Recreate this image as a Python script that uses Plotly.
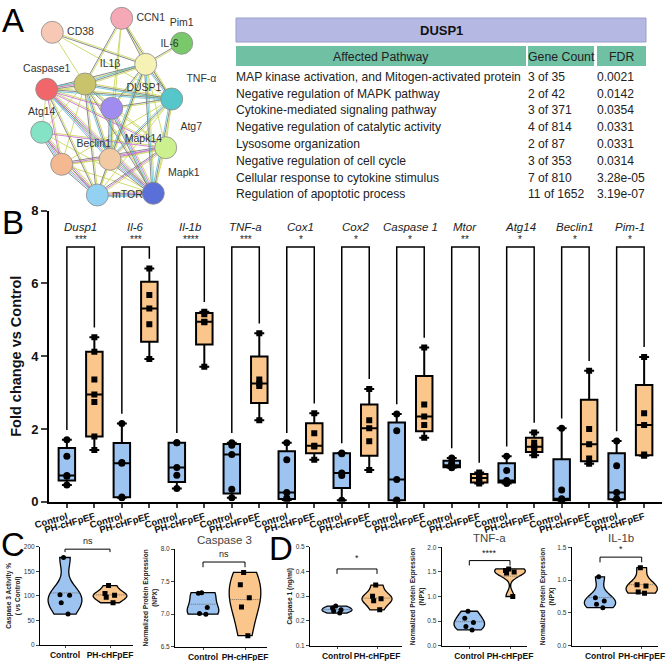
import numpy as np
import plotly.graph_objects as go

W, H = 669, 661
FONT = "Liberation Sans, Arial, sans-serif"
BLUE = "#9dc4f1"
ORANGE = "#fbc68b"

# ---------- A: STRING network ----------
node_names = ["CCN1", "CD38", "Pim1", "IL-6", "IL1β", "Caspase1", "TNF-α",
              "DUSP1", "Atg14", "Atg7", "Mapk14", "Beclin1", "mTOR", "Mapk1"]
node_x = [121.7, 52.3, 181.7, 145.7, 85.0, 46.7, 171.7, 111.7, 41.7, 165.7, 110.0, 61.7, 97.3, 153.3]
node_y = [18.3, 32.3, 43.3, 64.3, 84.0, 89.3, 99.0, 108.3, 132.3, 147.7, 159.3, 164.3, 195.0, 193.3]
node_colors = ["#f5a9b6", "#f7c9b4", "#79c96b", "#f6f1b4", "#c9c46c", "#f0666b", "#55c6c9",
               "#a08cf0", "#84e3c4", "#cdf08e", "#f1c9a2", "#f5b992", "#93d1f2", "#5b6fd8"]
label_pos = ["middle right", "middle right", "top center", "top right", "top right", "top center",
             "top right", "top right", "top center", "top right", "top right", "top right",
             "middle right", "top right"]
# evidence: t textmining, k co-expression, e experiments, d databases
edges = [
    ("CCN1", "IL-6", "tk"), ("CCN1", "IL1β", "tk"), ("CCN1", "DUSP1", "t"), ("CCN1", "TNF-α", "tk"),
    ("CCN1", "Mapk14", "t"), ("CD38", "IL-6", "tk"), ("CD38", "TNF-α", "t"), ("CD38", "IL1β", "t"),
    ("Pim1", "IL-6", "tk"), ("IL-6", "IL1β", "tkd"), ("IL-6", "Caspase1", "tk"), ("IL-6", "TNF-α", "tkd"),
    ("IL-6", "DUSP1", "tk"), ("IL-6", "Atg7", "t"), ("IL-6", "Mapk14", "tkd"), ("IL-6", "Mapk1", "tdk"),
    ("IL-6", "mTOR", "t"), ("IL1β", "Caspase1", "tked"), ("IL1β", "TNF-α", "tkd"), ("IL1β", "DUSP1", "tk"),
    ("IL1β", "Atg14", "t"), ("IL1β", "Beclin1", "t"), ("IL1β", "mTOR", "tk"), ("IL1β", "Mapk14", "tkd"),
    ("IL1β", "Mapk1", "tk"), ("IL1β", "Atg7", "t"), ("Caspase1", "TNF-α", "tkd"), ("Caspase1", "DUSP1", "te"),
    ("Caspase1", "Beclin1", "te"), ("Caspase1", "mTOR", "tk"), ("Caspase1", "Mapk14", "ted"),
    ("Caspase1", "Mapk1", "tekd"), ("Caspase1", "Atg7", "te"), ("Caspase1", "Atg14", "t"),
    ("TNF-α", "DUSP1", "tk"), ("TNF-α", "Atg7", "t"), ("TNF-α", "Mapk14", "tkd"), ("TNF-α", "Mapk1", "tkd"),
    ("TNF-α", "mTOR", "t"), ("TNF-α", "Beclin1", "t"), ("DUSP1", "Mapk14", "tedk"), ("DUSP1", "Mapk1", "tedk"),
    ("DUSP1", "Atg7", "t"), ("Atg14", "Beclin1", "tedk"), ("Atg14", "mTOR", "tek"), ("Atg14", "Atg7", "te"),
    ("Atg14", "Mapk1", "t"), ("Atg7", "Mapk14", "te"), ("Atg7", "Mapk1", "t"), ("Atg7", "mTOR", "tek"),
    ("Atg7", "Beclin1", "tek"), ("Mapk14", "Beclin1", "t"), ("Mapk14", "mTOR", "tk"), ("Mapk14", "Mapk1", "tedk"),
    ("Beclin1", "mTOR", "tedk"), ("Beclin1", "Mapk1", "t"), ("mTOR", "Mapk1", "tekd"),
]
ev_colors = {"t": "#c3d145", "k": "#666666", "e": "#c25ccf", "d": "#4bb7cf"}

# ---------- A: enrichment table ----------
table_title = "DUSP1"
table_header = ["Affected Pathway", "Gene Count", "FDR"]
pathways = [
    "MAP kinase activation, and Mitogen-activated protein",
    "Negative regulation of MAPK pathway",
    "Cytokine-mediated signaling pathway",
    "Negative regulation of catalytic activity",
    "Lysosome organization",
    "Negative regulation of cell cycle",
    "Cellular response to cytokine stimulus",
    "Regulation of apoptotic process",
]
gene_counts = ["3 of 35", "2 of 42", "3 of 371", "4 of 814", "2 of 87", "3 of 353", "7 of 810", "11 of 1652"]
fdr = ["0.0021", "0.0142", "0.0354", "0.0331", "0.0331", "0.0314", "3.28e-05", "3.19e-07"]

# ---------- B: qPCR fold change ----------
genes = ["Dusp1", "Il-6", "Il-1b", "TNF-a", "Cox1", "Cox2", "Caspase 1", "Mtor", "Atg14", "Beclin1", "Pim-1"]
stars = ["***", "***", "****", "***", "*", "*", "*", "**", "*", "*", "*"]
control_pts = [
    [1.70, 1.25, 0.72, 0.70, 0.46],
    [2.15, 1.08, 1.06, 0.13, 0.11],
    [1.62, 1.62, 0.94, 0.73, 0.36],
    [1.62, 1.55, 1.30, 0.34, 0.11],
    [1.62, 1.15, 0.25, 0.10, 0.05],
    [1.34, 1.32, 0.79, 0.72, 0.04],
    [2.41, 1.95, 0.61, 0.05, 0.03],
    [1.20, 1.05, 1.00, 0.97, 0.93],
    [1.25, 0.86, 0.58, 0.56, 0.50],
    [2.02, 0.32, 0.08, 0.05, 0.03],
    [1.67, 0.99, 0.25, 0.08, 0.05],
]
ph_pts = [
    [4.52, 4.12, 3.36, 2.95, 2.74, 1.79, 1.42],
    [6.41, 5.68, 5.31, 4.88, 3.92],
    [5.22, 5.15, 4.95, 4.93, 3.71],
    [4.63, 3.36, 3.25, 3.18, 2.24],
    [2.43, 1.88, 1.54, 1.52, 1.15],
    [3.10, 2.24, 2.02, 1.66, 0.87],
    [4.24, 2.67, 2.34, 2.11, 1.76],
    [0.80, 0.72, 0.65, 0.55, 0.50],
    [1.90, 1.62, 1.51, 1.45, 1.28],
    [3.60, 2.00, 1.58, 1.19, 1.04],
    [3.98, 2.43, 2.11, 1.30, 1.26],
]
group_labels = ["Control", "PH-cHFpEF"]

# ---------- C / D: violins ----------
casp3_activity = {"Control": [178, 102, 101, 86, 63], "PH-cHFpEF": [121, 105, 101, 97, 86]}
casp3_npx = {"Control": [7.33, 7.32, 7.10, 7.01, 7.00], "PH-cHFpEF": [7.64, 7.45, 7.25, 7.11, 6.67]}
casp1_conc = {"Control": [0.26, 0.252, 0.245, 0.24, 0.232], "PH-cHFpEF": [0.345, 0.30, 0.29, 0.282, 0.245]}
tnfa_npx = {"Control": [0.70, 0.56, 0.47, 0.39, 0.32], "PH-cHFpEF": [1.56, 1.53, 1.50, 1.48, 1.00]}
il1b_npx = {"Control": [1.05, 0.73, 0.68, 0.63, 0.58], "PH-cHFpEF": [1.19, 0.93, 0.91, 0.82, 0.80]}


def dx(a, b):
    return [a / W, b / W]


def dy(top, bottom):
    return [1 - bottom / H, 1 - top / H]


fig = go.Figure()
shapes, annos = [], []

# network edges
pos = dict(zip(node_names, zip(node_x, node_y)))
ex = {c: [] for c in ev_colors}
ey = {c: [] for c in ev_colors}
for a, b, ev in edges:
    (x0, y0), (x1, y1) = pos[a], pos[b]
    d = np.hypot(x1 - x0, y1 - y0)
    nx, ny = -(y1 - y0) / d, (x1 - x0) / d
    for k, code in enumerate(ev):
        off = (k - (len(ev) - 1) / 2) * 1.4
        ex[code] += [x0 + nx * off, x1 + nx * off, None]
        ey[code] += [y0 + ny * off, y1 + ny * off, None]
for code, col in ev_colors.items():
    fig.add_trace(go.Scatter(x=ex[code], y=ey[code], mode="lines", line=dict(color=col, width=0.9),
                             opacity=0.85, hoverinfo="skip", xaxis="x", yaxis="y"))
fig.add_trace(go.Scatter(
    x=node_x, y=node_y, text=node_names, mode="markers+text", textposition=label_pos,
    marker=dict(size=22, color=node_colors, line=dict(color="#8a8a8a", width=0.8)),
    textfont=dict(size=10.5, color="#333", family=FONT), cliponaxis=False, xaxis="x", yaxis="y"))

# table
col_x = [(236, 526), (528, 594), (597, 646)]
shapes.append(dict(type="rect", xref="x2", yref="y2", x0=236, x1=646, y0=18, y1=42,
                   fillcolor="#b4b8e3", line=dict(color="#9a9ec8", width=1), layer="below"))
annos.append(dict(x=441, y=30, xref="x2", yref="y2", text="<b>" + table_title + "</b>", showarrow=False,
                  font=dict(size=13, color="#111")))
for (a, b), name in zip(col_x, table_header):
    shapes.append(dict(type="rect", xref="x2", yref="y2", x0=a, x1=b, y0=46, y1=66,
                       fillcolor="#70c0a4", line=dict(width=0), layer="below"))
    annos.append(dict(x=(a + b) / 2, y=56.5, xref="x2", yref="y2", text=name, showarrow=False,
                      font=dict(size=12.3, color="#222")))
for i, row in enumerate(zip(pathways, gene_counts, fdr)):
    for (a, b), txt in zip(col_x, row):
        annos.append(dict(x=a - 2, y=76.7 + 16.8 * i, xref="x2", yref="y2", text=txt, showarrow=False,
                          xanchor="left", font=dict(size=12.1, color="#222")))

# panel B boxes
xc = np.arange(len(genes)) * 2
xp = xc + 1


def box_stats(groups):
    s = {k: [] for k in ["lf", "q1", "med", "q3", "uf"]}
    for g in groups:
        a = np.array(g)
        s["lf"].append(a.min())
        s["q1"].append(np.percentile(a, 25, method="weibull"))
        s["med"].append(np.median(a))
        s["q3"].append(np.percentile(a, 75, method="weibull"))
        s["uf"].append(a.max())
    return s


for xs, pts, col, sym, sz in [(xc, control_pts, BLUE, "circle", 7), (xp, ph_pts, ORANGE, "square", 6)]:
    st = box_stats(pts)
    fig.add_trace(go.Box(x=xs, q1=st["q1"], median=st["med"], q3=st["q3"], lowerfence=st["lf"],
                         upperfence=st["uf"], fillcolor=col, line=dict(color="black", width=2),
                         width=0.6, whiskerwidth=0.6, boxpoints=False, hoverinfo="skip",
                         xaxis="x3", yaxis="y3"))
    fig.add_trace(go.Scatter(x=np.repeat(xs, [len(p) for p in pts]), y=np.concatenate(pts), mode="markers",
                             marker=dict(symbol=sym, size=sz, color="black"), hoverinfo="skip",
                             xaxis="x3", yaxis="y3"))

bx, by = [], []
for i in range(len(genes)):
    bx += [xc[i], xc[i], xp[i], xp[i], None]
    by += [max(control_pts[i]) + 0.27, 7.0, 7.0, max(ph_pts[i]) + 0.27, None]
    annos.append(dict(x=xc[i] + 0.5, y=7.55, xref="x3", yref="y3", text="<i>" + genes[i] + "</i>",
                      showarrow=False, font=dict(size=11.5, color="#222")))
    annos.append(dict(x=xc[i] + 0.5, y=7.22, xref="x3", yref="y3", text=stars[i],
                      showarrow=False, font=dict(size=10, color="#222")))
fig.add_trace(go.Scatter(x=bx, y=by, mode="lines", line=dict(color="black", width=1.5),
                         hoverinfo="skip", cliponaxis=False, xaxis="x3", yaxis="y3"))

# panels C / D
panels = [
    dict(n=4, left=40, right=133, top=546.7, bottom=645, c=65, p=110, data=casp3_activity,
         yr=[0, 200], dt=50, fmt="d", ylab="Caspase 3 Activity %<br>( vs Control)", title=None,
         sig="ns", bar=195, leg=189, sigy=197),
    dict(n=5, left=175, right=267, top=549, bottom=646.7, c=203, p=245, data=casp3_npx,
         yr=[6.5, 8.0], dt=0.5, fmt=".1f", ylab="Normalized Protein Expression<br>(NPX)", title="Caspase 3",
         sig="ns", bar=7.8, leg=7.72, sigy=7.82),
    dict(n=6, left=310, right=402, top=546.7, bottom=645.7, c=337, p=377, data=casp1_conc,
         yr=[0.1, 0.5], dt=0.1, fmt=".1f", ylab="Caspase 1 (ng/ml)", title=None,
         sig="*", bar=0.41, leg=0.39, sigy=0.425),
    dict(n=7, left=441.7, right=527, top=547.3, bottom=645.7, c=469.3, p=510, data=tnfa_npx,
         yr=[0, 2.0], dt=0.5, fmt=".1f", ylab="Normalized Protein Expression<br>(NPX)", title="TNF-a",
         sig="****", bar=1.73, leg=1.63, sigy=1.74),
    dict(n=8, left=571.7, right=658, top=547.3, bottom=645.7, c=600, p=641.7, data=il1b_npx,
         yr=[0, 1.5], dt=0.5, fmt=".1f", ylab="Normalized Protein Expression<br>(NPX)", title="IL-1b",
         sig="*", bar=1.35, leg=1.27, sigy=1.37),
]

axes = {}
for pnl in panels:
    n = pnl["n"]
    sp = pnl["p"] - pnl["c"]
    for k, grp in enumerate(group_labels):
        vals = pnl["data"][grp]
        fig.add_trace(go.Violin(
            x=[k] * len(vals), y=vals, fillcolor=BLUE if k == 0 else ORANGE,
            line=dict(color="black", width=1.3), width=0.75, spanmode="hard", points="all",
            pointpos=0, jitter=0.35, marker=dict(symbol="circle" if k == 0 else "square", size=5, color="black"),
            meanline=dict(visible=True, color="#666", width=0.7), hoverinfo="skip",
            xaxis="x%d" % n, yaxis="y%d" % n))
    fig.add_trace(go.Scatter(x=[0, 0, 1, 1], y=[pnl["leg"], pnl["bar"], pnl["bar"], pnl["leg"]],
                             mode="lines", line=dict(color="black", width=1), cliponaxis=False,
                             hoverinfo="skip", xaxis="x%d" % n, yaxis="y%d" % n))
    annos.append(dict(x=0.5, y=pnl["sigy"], xref="x%d" % n, yref="y%d" % n, text=pnl["sig"],
                      yanchor="bottom", showarrow=False, font=dict(size=9, color="#222")))
    if pnl["title"]:
        annos.append(dict(x=0.5, y=1, xref="x%d" % n, yref="y%d domain" % n, text=pnl["title"],
                          showarrow=False, yanchor="bottom", yshift=1, font=dict(size=11.5, color="#444")))
    axes["xaxis%d" % n] = dict(
        domain=dx(pnl["left"], pnl["right"]), anchor="y%d" % n, automargin=False,
        range=[-(pnl["c"] - pnl["left"]) / sp, 1 + (pnl["right"] - pnl["p"]) / sp],
        tickvals=[0, 1], ticktext=group_labels, ticks="outside", ticklen=2, tickangle=0,
        showline=True, linecolor="black", linewidth=1, showgrid=False, zeroline=False,
        tickfont=dict(size=8.5, weight="bold", color="#111"))
    axes["yaxis%d" % n] = dict(
        domain=dy(pnl["top"], pnl["bottom"]), anchor="x%d" % n, range=pnl["yr"], automargin=False,
        tickmode="linear", tick0=pnl["yr"][0], dtick=pnl["dt"], tickformat=pnl["fmt"],
        ticks="outside", ticklen=3, showline=True, linecolor="black", linewidth=1,
        showgrid=False, zeroline=False, tickfont=dict(size=6.5, color="#333"),
        title=dict(text="<b>" + pnl["ylab"] + "</b>", font=dict(size=6.6, color="#222"), standoff=2))

# panel letters
for letter, px, py, anchor in [("A", 13, 0, "top"), ("B", 13, 223, "middle"),
                               ("C", 13, 544, "middle"), ("D", 281, 548, "middle")]:
    annos.append(dict(x=px / W, y=1 - py / H, xref="paper", yref="paper", text=letter, showarrow=False,
                      xanchor="center", yanchor=anchor, font=dict(size=33, color="black")))

fig.update_layout(
    width=W, height=H, margin=dict(l=0, r=0, t=0, b=0), paper_bgcolor="white", plot_bgcolor="white",
    showlegend=False, font=dict(family=FONT, color="black"), shapes=shapes, annotations=annos,
    xaxis=dict(domain=dx(0, 230), range=[0, 230], visible=False, automargin=False),
    yaxis=dict(domain=dy(0, 220), range=[220, 0], visible=False, automargin=False),
    xaxis2=dict(domain=dx(230, 669), range=[230, 669], visible=False, anchor="y2", automargin=False),
    yaxis2=dict(domain=dy(0, 210), range=[210, 0], visible=False, anchor="x2", automargin=False),
    xaxis3=dict(domain=dx(49, 662), range=[-0.65, 21.65], anchor="y3", automargin=False,
                tickvals=list(range(22)), ticktext=group_labels * len(genes), tickangle=-16,
                ticks="outside", ticklen=4, tickwidth=1.5, showline=True, linecolor="black", linewidth=2,
                showgrid=False, zeroline=False, tickfont=dict(size=9.5, weight="bold", color="#111")),
    yaxis3=dict(domain=dy(210.7, 501.7), range=[0, 8], anchor="x3", tickvals=[0, 2, 4, 6, 8],
                automargin=False, ticks="outside", ticklen=6, tickwidth=2, showline=True,
                linecolor="black", linewidth=2, showgrid=False, zeroline=False,
                tickfont=dict(size=13, weight="bold", color="#111"),
                title=dict(text="<b>Fold change vs Control</b>", font=dict(size=14.5, color="#111"),
                           standoff=6)),
    **axes,
)

# the page body has a default 8px margin; drop it so the figure sits at the window corner
fig.write_html("out.html", config={"displayModeBar": False},
               post_script="document.body.style.margin='0px';")
